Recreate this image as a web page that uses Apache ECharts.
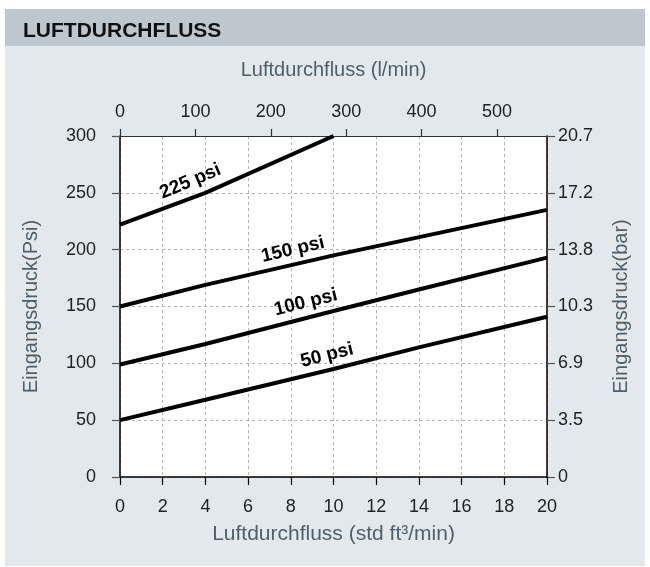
<!DOCTYPE html>
<html>
<head>
<meta charset="utf-8">
<script src="https://cdn.jsdelivr.net/npm/echarts@6/dist/echarts.min.js"></script>
<style>
  html, body { margin: 0; padding: 0; background: #fff; }
  #chart { width: 650px; height: 567px; }
</style>
</head>
<body>
<div id="chart"></div>
<script>
(function() {
  'use strict';

  // Kurven: Durchfluss (std ft3/min) -> Eingangsdruck (psi)
  var flow50 = [0, 4, 10, 14, 20];
  var psi50 = [50, 68, 95, 114, 141];
  var flow100 = [0, 4, 10, 14, 20];
  var psi100 = [99, 117, 146, 165, 193];
  var flow150 = [0, 4, 10, 20];
  var psi150 = [150, 169, 195, 235];
  var flow225 = [0, 4, 10];
  var psi225 = [222, 250, 300];

  // Beschriftungen der Kurven: [x, y, Winkel]
  var curveNames = ['50 psi', '100 psi', '150 psi', '225 psi'];
  var labelPos = [[9.7, 107, 14], [8.7, 153.5, 14], [8.1, 200, 13], [3.3, 260, 23]];

  // Achsen
  var barLabels = ['0', '3.5', '6.9', '10.3', '13.8', '17.2', '20.7'];
  var lminMax = 566.34; // 20 scfm in l/min

  var font = '"Liberation Sans", Arial, Helvetica, sans-serif';
  var nameColor = '#4f5f69';
  var tickColor = '#222';

  function pairs(xs, ys) {
    return xs.map(function(x, i) { return [x, ys[i]]; });
  }

  function curve(idx, xs, ys) {
    var p = labelPos[idx];
    return {
      name: curveNames[idx],
      type: 'line',
      xAxisIndex: 0,
      yAxisIndex: 0,
      data: pairs(xs, ys),
      symbol: 'none',
      lineStyle: { color: '#000', width: 4 },
      z: 5,
      markPoint: {
        symbol: 'circle',
        symbolSize: 0,
        silent: true,
        data: [{ coord: [p[0], p[1]], value: curveNames[idx] }],
        label: {
          show: true,
          position: 'inside',
          formatter: curveNames[idx],
          rotate: p[2],
          color: '#000',
          fontFamily: font,
          fontWeight: 'bold',
          fontSize: 19
        }
      }
    };
  }

  var chart = echarts.init(document.getElementById('chart'), null, { renderer: 'canvas' });

  chart.setOption({
    backgroundColor: '#fff',
    animation: false,
    title: {
      text: 'LUFTDURCHFLUSS',
      left: 18,
      top: 16,
      textStyle: { fontFamily: font, fontWeight: 'bold', fontSize: 21, color: '#111' }
    },
    graphic: [
      { type: 'rect', z: -10, shape: { x: 5, y: 9, width: 640, height: 37 }, style: { fill: '#bdc7cd' } },
      { type: 'rect', z: -10, shape: { x: 5, y: 46, width: 640, height: 520 }, style: { fill: '#e3e8ec' } }
    ],
    grid: {
      left: 120, right: 103, top: 136, bottom: 90,
      show: true, backgroundColor: '#fff', borderWidth: 0
    },
    xAxis: [
      {
        type: 'value', position: 'bottom', min: 0, max: 20, interval: 2,
        name: 'Luftdurchfluss (std ft³/min)', nameLocation: 'middle', nameGap: 47,
        nameTextStyle: { color: nameColor, fontFamily: font, fontSize: 21 },
        axisLine: { show: true, onZero: false, lineStyle: { color: '#000', width: 1.5 } },
        axisTick: { show: true, inside: false, length: 8, lineStyle: { color: '#000', width: 1.2 } },
        axisLabel: { color: tickColor, fontFamily: font, fontSize: 18, margin: 21 },
        splitLine: { show: true, lineStyle: { color: '#b4b4b4', type: [3, 3], width: 1 } }
      },
      {
        type: 'value', position: 'top', min: 0, max: lminMax, interval: 100,
        name: 'Luftdurchfluss (l/min)', nameLocation: 'middle', nameGap: 56,
        nameTextStyle: { color: nameColor, fontFamily: font, fontSize: 20 },
        axisLine: { show: true, onZero: false, lineStyle: { color: '#333', width: 1.2 } },
        axisTick: { show: true, inside: false, length: 7, lineStyle: { color: '#333', width: 1.2 } },
        axisLabel: { color: tickColor, fontFamily: font, fontSize: 18, margin: 15, showMaxLabel: false },
        splitLine: { show: false }
      }
    ],
    yAxis: [
      {
        type: 'value', position: 'left', min: 0, max: 300, interval: 50,
        name: 'Eingangsdruck(Psi)', nameLocation: 'middle', nameGap: 79, nameRotate: 90,
        nameTextStyle: { color: nameColor, fontFamily: font, fontSize: 20 },
        axisLine: { show: true, onZero: false, lineStyle: { color: '#000', width: 1.5 } },
        axisTick: { show: true, inside: false, length: 8, lineStyle: { color: '#555', width: 1.2 } },
        axisLabel: { color: tickColor, fontFamily: font, fontSize: 18, margin: 24 },
        splitLine: { show: true, lineStyle: { color: '#b4b4b4', type: [3, 3], width: 1 } }
      },
      {
        type: 'value', position: 'right', min: 0, max: 300, interval: 50,
        name: 'Eingangsdruck(bar)', nameLocation: 'middle', nameGap: 64, nameRotate: 90,
        nameTextStyle: { color: nameColor, fontFamily: font, fontSize: 20 },
        axisLine: { show: true, onZero: false, lineStyle: { color: '#000', width: 1.5 } },
        axisTick: { show: true, inside: false, length: 8, lineStyle: { color: '#555', width: 1.2 } },
        axisLabel: {
          color: tickColor, fontFamily: font, fontSize: 18, margin: 11,
          formatter: function(v) { return barLabels[Math.round(v / 50)]; }
        },
        splitLine: { show: false }
      }
    ],
    series: [
      curve(0, flow50, psi50),
      curve(1, flow100, psi100),
      curve(2, flow150, psi150),
      curve(3, flow225, psi225)
    ]
  });
})();
</script>
</body>
</html>
